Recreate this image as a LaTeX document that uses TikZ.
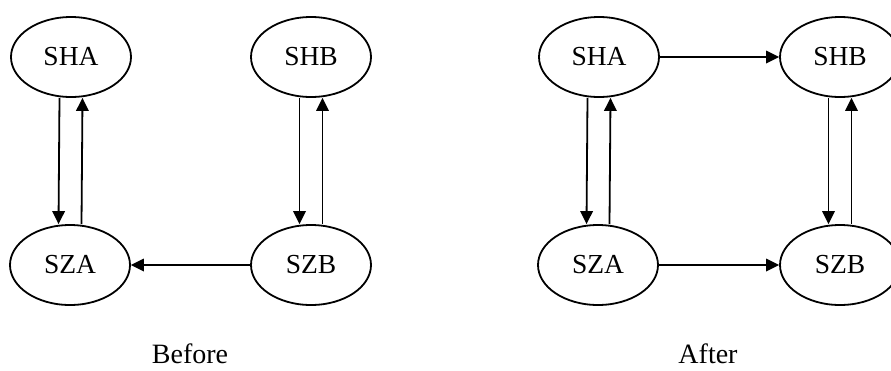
\documentclass[tikz,border=0pt]{standalone}
\usepackage{fontspec}
\setmainfont{Liberation Serif}
\usetikzlibrary{shapes.geometric,arrows.meta}
\begin{document}
\begin{tikzpicture}[x=1pt,y=-1pt,
  state/.style={draw,line width=1.8pt,ellipse,minimum width=120pt,minimum height=80pt,inner sep=0pt,font=\fontsize{27.5}{31}\selectfont},
  conn/.style={line width=1.8pt,-{Triangle[length=13pt,width=12.5pt]}},
  caption/.style={anchor=base,inner sep=0pt,font=\fontsize{28}{32}\selectfont}]
\useasboundingbox (0,0) rectangle (891,370);
% Before
\node[state] (bSHA) at (71,57) {SHA};
\node[state] (bSHB) at (311,57) {SHB};
\node[state] (bSZA) at (70,265) {SZA};
\node[state] (bSZB) at (311,265) {SZB};
\draw[conn] ([xshift=-11.5pt]bSHA.south) -- ([xshift=-11.5pt]bSZA.north);
\draw[conn] ([xshift=11.5pt]bSZA.north) -- ([xshift=11.5pt]bSHA.south);
\draw[conn] ([xshift=-11.5pt]bSHB.south) -- ([xshift=-11.5pt]bSZB.north);
\draw[conn] ([xshift=11.5pt]bSZB.north) -- ([xshift=11.5pt]bSHB.south);
\draw[conn] (bSZB.west) -- (bSZA.east);
\node[caption] (before) at (190,363) {Before};
% After
\node[state] (aSHA) at (599,57) {SHA};
\node[state] (aSHB) at (840,57) {SHB};
\node[state] (aSZA) at (598,265) {SZA};
\node[state] (aSZB) at (840,265) {SZB};
\draw[conn] ([xshift=-11.5pt]aSHA.south) -- ([xshift=-11.5pt]aSZA.north);
\draw[conn] ([xshift=11.5pt]aSZA.north) -- ([xshift=11.5pt]aSHA.south);
\draw[conn] ([xshift=-11.5pt]aSHB.south) -- ([xshift=-11.5pt]aSZB.north);
\draw[conn] ([xshift=11.5pt]aSZB.north) -- ([xshift=11.5pt]aSHB.south);
\draw[conn] (aSHA.east) -- (aSHB.west);
\draw[conn] (aSZA.east) -- (aSZB.west);
\node[caption] (after) at (708,363) {After};
\end{tikzpicture}
\end{document}
